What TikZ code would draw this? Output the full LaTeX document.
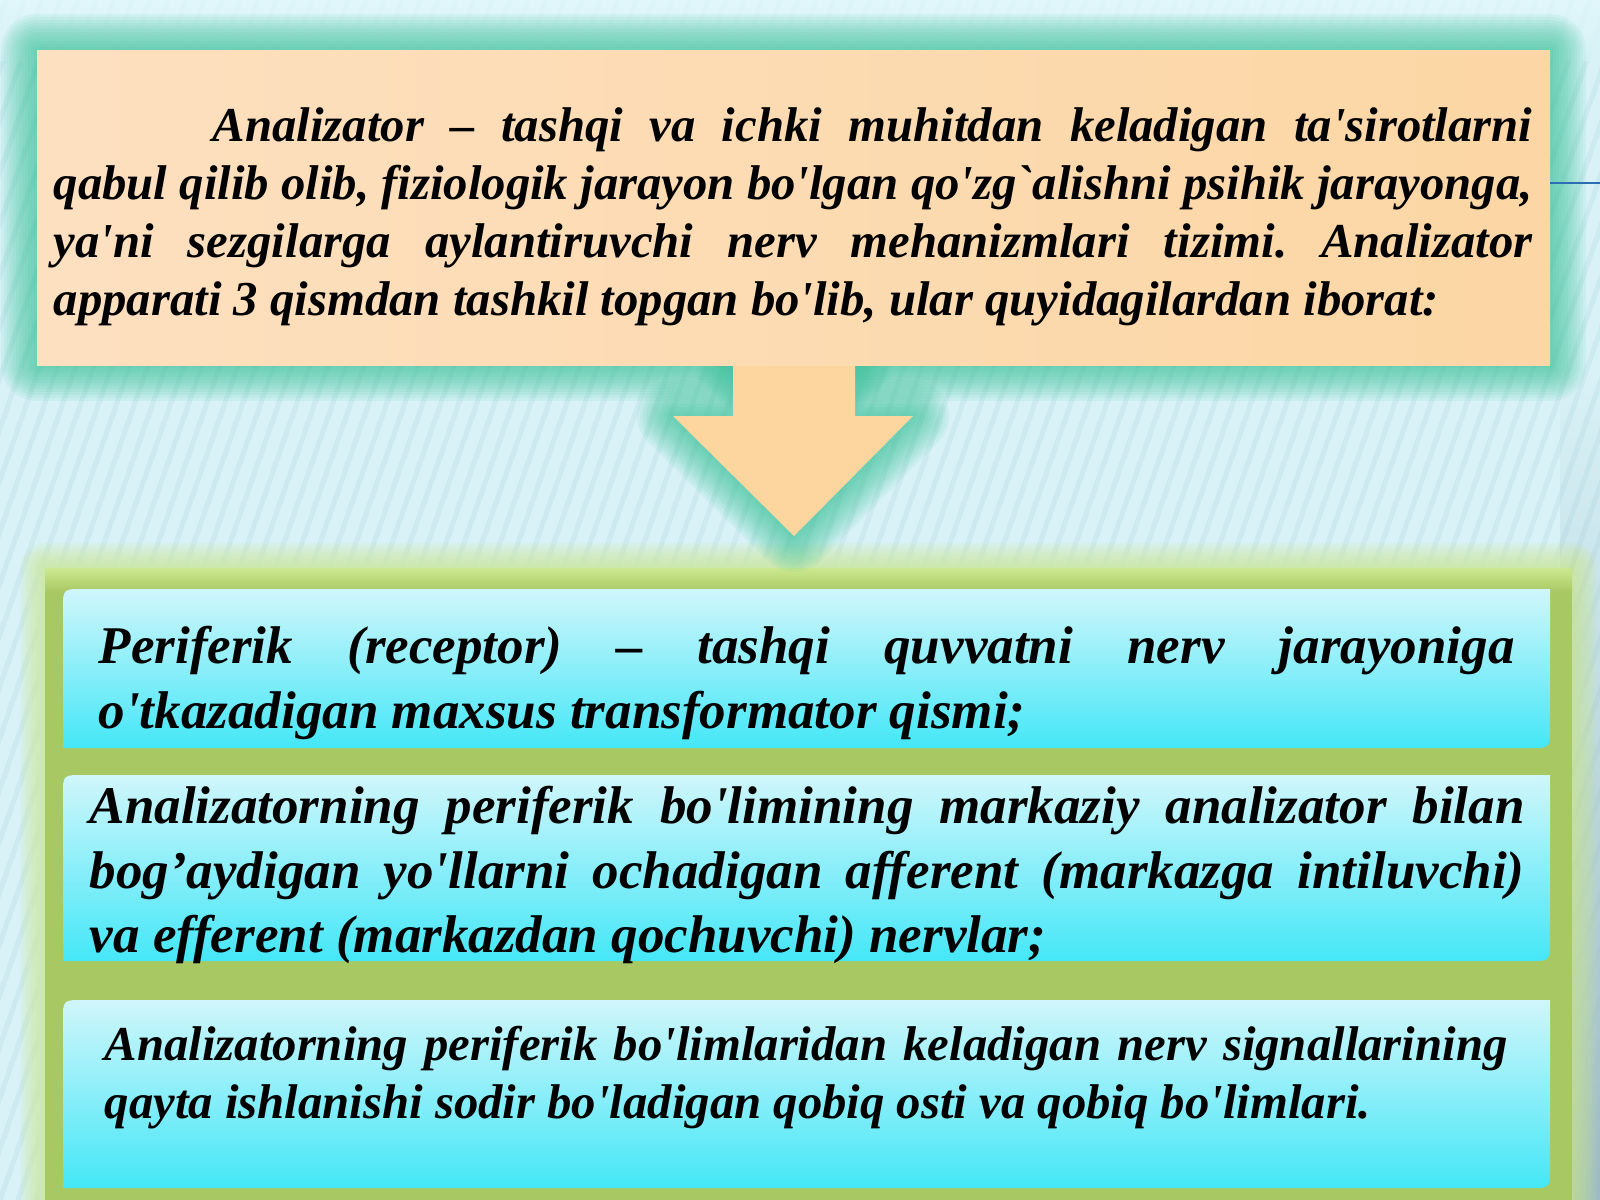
\documentclass[tikz,border=0pt]{standalone}
\usepackage{fontspec}
\usetikzlibrary{fadings}
\newfontfamily\uz{Liberation Serif}
\definecolor{bgc}{HTML}{D8F2F7}
\definecolor{bgtop}{HTML}{E2F8FB}
\definecolor{stripec}{HTML}{B8DCE5}
\definecolor{tealc}{HTML}{3FC49B}
\definecolor{peachL}{HTML}{FDE0C0}
\definecolor{peachM}{HTML}{FEEAD8}
\definecolor{peachR}{HTML}{FCD6A4}
\definecolor{arrowc}{HTML}{FDD59E}
\definecolor{greenc}{HTML}{A8C863}
\definecolor{lgreenc}{HTML}{CDE88F}
\definecolor{boxtop}{HTML}{D0F6FB}
\definecolor{boxbot}{HTML}{44E7F7}
\definecolor{bluelc}{HTML}{2C6DB3}
\definecolor{sidec}{HTML}{9DBAC6}
\tikzset{
  txtS/.style={anchor=base west, inner sep=0pt, font=\uz\fontsize{13.86pt}{16pt}\selectfont\bfseries\itshape\frenchspacing},
  txtL/.style={anchor=base west, inner sep=0pt, font=\uz\fontsize{15.08pt}{18pt}\selectfont\bfseries\itshape\frenchspacing},
  stripe/.style={draw=stripec, line width=0.05cm, opacity=0.35},
  glow/.style={draw=tealc, line join=round, opacity=0.085},
  gglow/.style={draw=lgreenc, line join=round, opacity=0.1},
  cyanfill/.style={top color=boxtop, bottom color=boxbot},
}
\newcommand\cyanbox[4]{%
  \shade[cyanfill] ({#1},{#4}) -- ({#1},{#2+20}) .. controls ({#1},{#2}) .. ({#1+20},{#2})
    -- ({#3},{#2}) -- ({#3},{#4-20}) .. controls ({#3},{#4}) .. ({#3-20},{#4}) -- cycle;}
\begin{document}
\begin{tikzpicture}[x=0.01cm,y=-0.01cm]
\useasboundingbox (0,0) rectangle (1600,1200);
% background
\fill[bgc] (0,0) rectangle (1600,1200);
\begin{scope}
  \clip (0,0) rectangle (1600,1200);
  \foreach \i in {-30,...,100} \draw[stripe] ({\i*18},1200) -- ({\i*18+420},0);
\end{scope}
\shade[top color=bgtop, bottom color=bgc, opacity=0.8] (0,0) rectangle (1600,60);
\fill[sidec, path fading=north] (1560,380) rectangle (1600,1200);
% lower green panel
\foreach \k in {1,...,10} \draw[gglow, line width=\k*0.05cm] (45,568) rectangle (1572,1215);
\fill[greenc] (45,568) rectangle (1572,1215);
\shade[top color=lgreenc, bottom color=greenc] (45,568) rectangle (1572,592);
% glows of top box and arrow
\foreach \k in {1,...,12} {
  \draw[glow, line width=\k*0.06cm] (37,50) rectangle (1550,365);
  \draw[glow, line width=\k*0.06cm] (733,365) -- (855,365) -- (855,416) -- (913,416) -- (794,536) -- (673,416) -- (733,416) -- cycle;
}
% arrow
\fill[arrowc] (733,360) -- (855,360) -- (855,416) -- (913,416) -- (794,536) -- (673,416) -- (733,416) -- cycle;
% top box
\shade[left color=peachL, middle color=peachM, right color=peachR] (37,50) rectangle (1550,365);
% blue stub line
\coordinate (bl1) at (1550,183);
\coordinate (bl2) at (1600,183);
\draw[bluelc, line width=0.025cm] (bl1) -- (bl2);
% cyan boxes
\cyanbox{63}{589}{1550}{748}
\cyanbox{63}{775}{1550}{961}
\cyanbox{63}{1000}{1550}{1188}
% top text
\node[txtS] (t1) at (212,141) {\makebox[13.19cm][s]{Analizator – tashqi va ichki muhitdan keladigan ta'sirotlarni}};
\node[txtS] (t2) at (53,199) {\makebox[14.78cm][s]{qabul qilib olib, fiziologik jarayon bo'lgan qo'zg`alishni psihik jarayonga,}};
\node[txtS] (t3) at (53,257) {\makebox[14.78cm][s]{ya'ni sezgilarga aylantiruvchi nerv mehanizmlari tizimi. Analizator}};
\node[txtS] (t4) at (53,315) {apparati 3 qismdan tashkil topgan bo'lib, ular quyidagilardan iborat:};
% box 1
\node[txtL] (p1) at (98,663) {\makebox[14.15cm][s]{Periferik (receptor) – tashqi quvvatni nerv jarayoniga}};
\node[txtL] (p2) at (98,728) {o'tkazadigan maxsus transformator qismi;};
% box 2
\node[txtL] (q1) at (89,823) {\makebox[14.34cm][s]{Analizatorning periferik bo'limining markaziy analizator bilan}};
\node[txtL] (q2) at (89,888) {\makebox[14.34cm][s]{bog’aydigan yo'llarni ochadigan afferent (markazga intiluvchi)}};
\node[txtL] (q3) at (89,952) {va efferent (markazdan qochuvchi) nervlar;};
% box 3
\node[txtS] (r1) at (104,1060) {\makebox[14.02cm][s]{Analizatorning periferik bo'limlaridan keladigan nerv signallarining}};
\node[txtS] (r2) at (104,1118) {qayta ishlanishi sodir bo'ladigan qobiq osti va qobiq bo'limlari.};
\end{tikzpicture}
\end{document}
